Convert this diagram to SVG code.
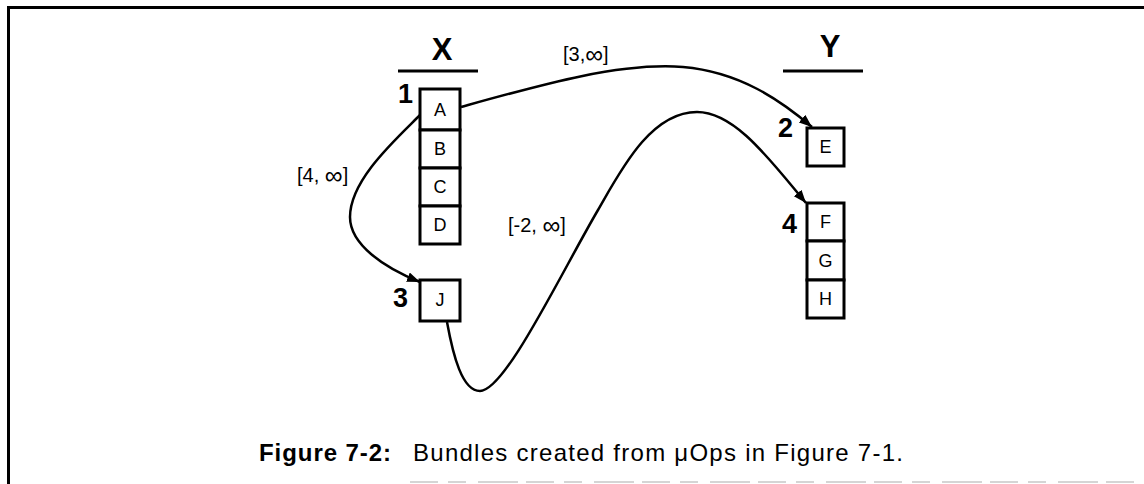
<svg xmlns="http://www.w3.org/2000/svg" width="1144" height="484" viewBox="0 0 1144 484">
<style>
  .box { fill: #fff; stroke: #000; stroke-width: 3; }
  .cell { font-family: "Liberation Sans", Arial, sans-serif; font-size: 18px; text-anchor: middle; fill: #000; }
  .num { font-family: "Liberation Sans", Arial, sans-serif; font-size: 27px; font-weight: bold; fill: #000; }
  .head { font-family: "Liberation Sans", Arial, sans-serif; font-size: 31px; font-weight: bold; text-anchor: middle; fill: #000; }
  .uline { stroke: #000; stroke-width: 3; }
  .edge { fill: none; stroke: #000; stroke-width: 2.5; marker-end: url(#ah); }
  .lbl { font-family: "Liberation Sans", Arial, sans-serif; font-size: 20px; fill: #000; }
  .inf { font-size: 25px; }
  .cap { font-family: "Liberation Sans", Arial, sans-serif; font-size: 24px; fill: #000; }
  .frame { stroke: #000; stroke-width: 3; fill: none; }
</style>
<defs>
  <marker id="ah" markerWidth="14" markerHeight="12" refX="13" refY="5" orient="auto" markerUnits="userSpaceOnUse">
    <path d="M0,0 L13,5 L0,10 z" fill="#000"/>
  </marker>
</defs>
<rect width="1144" height="484" fill="#fff"/>
<g id="frame">
  <path class="frame" d="M8.5,484 L8.5,7.5 L1144,7.5"/>
  <line x1="410" y1="482" x2="1144" y2="482" stroke="#c8c8c8" stroke-width="1.5" stroke-dasharray="28 10 18 12 40 8"/>
</g>
<g id="header-X">
  <text class="head" x="442" y="60">X</text>
  <line class="uline" x1="398" y1="71" x2="478" y2="71"/>
</g>
<g id="header-Y">
  <text class="head" x="830" y="57">Y</text>
  <line class="uline" x1="783" y1="71" x2="863" y2="71"/>
</g>
<g id="bundle-1">
  <text class="num" x="398" y="103">1</text>
  <rect class="box" x="420" y="89" width="40" height="41"/>
  <rect class="box" x="420" y="130" width="40" height="38"/>
  <rect class="box" x="420" y="168" width="40" height="38"/>
  <rect class="box" x="420" y="206" width="40" height="38"/>
  <text class="cell" x="440" y="116">A</text>
  <text class="cell" x="440" y="155">B</text>
  <text class="cell" x="440" y="193">C</text>
  <text class="cell" x="440" y="231">D</text>
</g>
<g id="bundle-2">
  <text class="num" x="778" y="137">2</text>
  <rect class="box" x="807" y="128" width="37" height="38"/>
  <text class="cell" x="825.5" y="153">E</text>
</g>
<g id="bundle-3">
  <text class="num" x="393" y="307">3</text>
  <rect class="box" x="420" y="280" width="40" height="41"/>
  <text class="cell" x="440" y="306">J</text>
</g>
<g id="bundle-4">
  <text class="num" x="782" y="233">4</text>
  <rect class="box" x="807" y="203" width="37" height="38"/>
  <rect class="box" x="807" y="241" width="37" height="39"/>
  <rect class="box" x="807" y="280" width="37" height="38"/>
  <text class="cell" x="825.5" y="228">F</text>
  <text class="cell" x="825.5" y="267">G</text>
  <text class="cell" x="825.5" y="305">H</text>
</g>
<g id="connectors">
  <path class="edge" d="M461,107 C540,85 620,62 683,67 C740,72 780,100 812,127"/>
  <path class="edge" d="M420,115 C395,140 350,180 350,217 C350,245 385,268 420,282"/>
  <path class="edge" d="M447,322 C453,355 462,391 480,391 C505,391 560,275 598,210 C620,172 650,112 697,112 C735,112 770,160 806,203"/>
  <text class="lbl" x="563" y="61">[3,<tspan class="inf" dy="2">∞</tspan><tspan dy="-2">]</tspan></text>
  <text class="lbl" x="297" y="182">[4, <tspan class="inf" dy="2">∞</tspan><tspan dy="-2">]</tspan></text>
  <text class="lbl" x="508" y="232">[-2, <tspan class="inf" dy="2">∞</tspan><tspan dy="-2">]</tspan></text>
</g>
<g id="caption">
  <text class="cap" x="259" y="461" font-weight="bold" textLength="132" lengthAdjust="spacing">Figure 7-2:</text>
  <text class="cap" x="413" y="461" textLength="490" lengthAdjust="spacing">Bundles created from μOps in Figure 7-1.</text>
</g>
</svg>
